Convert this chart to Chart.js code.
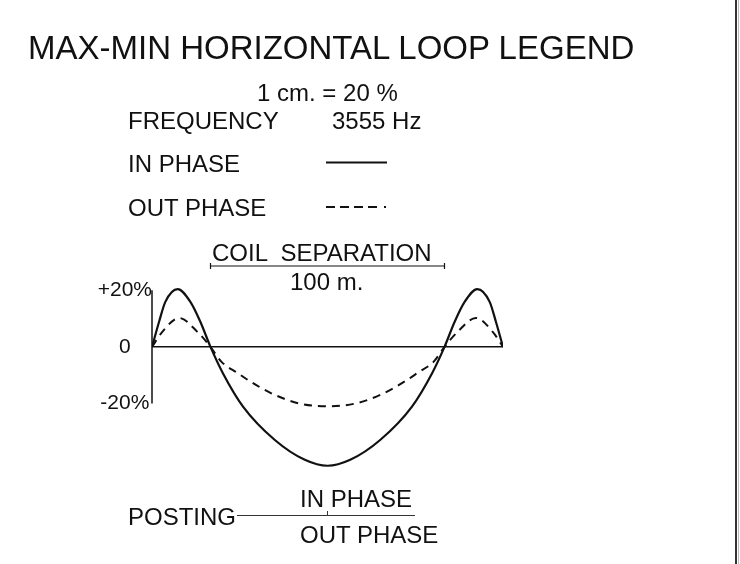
<!DOCTYPE html>
<html>
<head>
<meta charset="utf-8">
<script src="https://cdn.jsdelivr.net/npm/chart.js@4/dist/chart.umd.min.js"></script>
<style>
  html, body { margin: 0; padding: 0; background: #fff; }
  #wrap { position: relative; width: 740px; height: 564px; overflow: hidden; background: #fff; }
  #c { position: absolute; left: 0; top: 0; }
  .t { position: absolute; font-family: 'Liberation Sans', Arial, sans-serif; color: #111;
       line-height: 1; white-space: pre; transform: translateY(-50%); font-size: 24px; }
  #border1 { position: absolute; left: 735px; top: 0; width: 1.5px; height: 564px; background: #333; }
  #border2 { position: absolute; left: 738px; top: 0; width: 1px; height: 564px; background: #bbb; }
</style>
</head>
<body>
<div id="wrap">
  <canvas id="c" width="740" height="564"></canvas>
  <div class="t" style="left:28px; top:47px; font-size:33px;">MAX-MIN HORIZONTAL LOOP LEGEND</div>
  <div class="t" style="left:257px; top:93px;">1 cm. = 20 %</div>
  <div class="t" style="left:128px; top:121px;">FREQUENCY</div>
  <div class="t" style="left:332px; top:121px;">3555 Hz</div>
  <div class="t" style="left:128px; top:164px;">IN PHASE</div>
  <div class="t" style="left:128px; top:208px;">OUT PHASE</div>
  <div class="t" style="left:212px; top:253px;">COIL  SEPARATION</div>
  <div class="t" style="left:290px; top:282px;">100 m.</div>
  <div class="t" style="left:128px; top:517px;">POSTING</div>
  <div class="t" style="left:300px; top:499px;">IN PHASE</div>
  <div class="t" style="left:300px; top:535px;">OUT PHASE</div>
  <div id="border1"></div>
  <div id="border2"></div>
</div>
<script>
// Distance along the line (m); coil separation 100 m
const inPhaseX = [-25, -22, -19.3, -14, -8.6, -4.3, 0, 5.3, 13.9, 27.5, 40.3, 50, 59.7, 72.5, 86.1, 94.7, 100, 104.3, 108.6, 114, 119.3, 122, 125];
const inPhaseY = [0, 8.8, 15.9, 20.4, 15.9, 8.8, 0, -9.3, -21.1, -32.9, -39.9, -42, -39.9, -32.9, -21.1, -9.3, 0, 8.8, 15.9, 20.4, 15.9, 8.8, 0];
const outPhaseX = [-25, -20.6, -13.4, -5.6, 0, 4.6, 11.7, 16, 26, 37.5, 50, 62.5, 74, 84, 88.3, 95.4, 100, 105.6, 113.4, 120.6, 125];
const outPhaseY = [0, 5.3, 10.2, 5.3, 0, -5.2, -9.3, -11.7, -16.4, -19.9, -21, -19.9, -16.4, -11.7, -9.3, -5.2, 0, 5.3, 10.2, 5.3, 0];
const yTickValues = [-20, 0, 20];
const yTickLabels = ['-20%', '0', '+20%'];
const coilSeparation = [0, 100];

const toPts = (xs, ys) => xs.map((x, i) => ({ x: x, y: ys[i] }));

const decor = {
  id: 'decor',
  afterDatasetsDraw(chart) {
    const ctx = chart.ctx;
    const xs = chart.scales.x, ys = chart.scales.y;
    ctx.save();
    ctx.strokeStyle = '#111';
    ctx.lineCap = 'butt';
    // vertical axis from -20% to +20%
    const ax = xs.getPixelForValue(xs.min);
    ctx.lineWidth = 1.5;
    ctx.beginPath();
    ctx.moveTo(ax, ys.getPixelForValue(yTickValues[yTickValues.length - 1]));
    ctx.lineTo(ax, ys.getPixelForValue(yTickValues[0]));
    ctx.stroke();
    // zero line
    const y0 = ys.getPixelForValue(0);
    ctx.beginPath();
    ctx.moveTo(ax, y0);
    ctx.lineTo(xs.getPixelForValue(xs.max), y0);
    ctx.stroke();
    // coil separation bracket
    const bx1 = xs.getPixelForValue(coilSeparation[0]);
    const bx2 = xs.getPixelForValue(coilSeparation[1]);
    const by = 266;
    ctx.lineWidth = 1.2;
    ctx.beginPath();
    ctx.moveTo(bx1, by); ctx.lineTo(bx2, by);
    ctx.moveTo(bx1, by - 3); ctx.lineTo(bx1, by + 3);
    ctx.moveTo(bx2, by - 3); ctx.lineTo(bx2, by + 3);
    ctx.stroke();
    // legend samples
    ctx.lineWidth = 2;
    ctx.beginPath();
    ctx.moveTo(326, 162.5); ctx.lineTo(387, 162.5);
    ctx.stroke();
    ctx.setLineDash([9, 5]);
    ctx.beginPath();
    ctx.moveTo(326, 207); ctx.lineTo(381, 207);
    ctx.stroke();
    ctx.setLineDash([]);
    ctx.beginPath();
    ctx.moveTo(384, 207); ctx.lineTo(386, 207);
    ctx.stroke();
    // posting line
    ctx.lineWidth = 1;
    ctx.strokeStyle = '#333';
    ctx.beginPath();
    ctx.moveTo(237, 515.5); ctx.lineTo(415, 515.5);
    ctx.moveTo(327.5, 511); ctx.lineTo(327.5, 516);
    ctx.stroke();
    ctx.restore();
  }
};

new Chart(document.getElementById('c'), {
  type: 'line',
  data: {
    datasets: [
      { label: 'IN PHASE', data: toPts(inPhaseX, inPhaseY), borderColor: '#111', borderWidth: 2.2,
        pointRadius: 0, cubicInterpolationMode: 'monotone', fill: false },
      { label: 'OUT PHASE', data: toPts(outPhaseX, outPhaseY), borderColor: '#111', borderWidth: 2,
        borderDash: [8, 6], pointRadius: 0, cubicInterpolationMode: 'monotone', fill: false }
    ]
  },
  options: {
    responsive: false,
    animation: false,
    events: [],
    layout: { padding: { left: 98, right: 237, top: 286, bottom: 94 } },
    plugins: { legend: { display: false }, title: { display: false }, tooltip: { enabled: false } },
    scales: {
      x: { type: 'linear', min: -25, max: 125, display: false },
      y: {
        type: 'linear', min: -43.5, max: 21.5,
        grid: { display: false, drawTicks: false },
        border: { display: false },
        afterBuildTicks: (s) => { s.ticks = yTickValues.map(v => ({ value: v })); },
        afterFit: (s) => { s.width = 54; },
        ticks: {
          padding: 0, crossAlign: 'center', color: '#111',
          font: { family: "'Liberation Sans', Arial, sans-serif", size: 21 },
          callback: (v) => yTickLabels[yTickValues.indexOf(v)]
        }
      }
    }
  },
  plugins: [decor]
});
</script>
</body>
</html>
